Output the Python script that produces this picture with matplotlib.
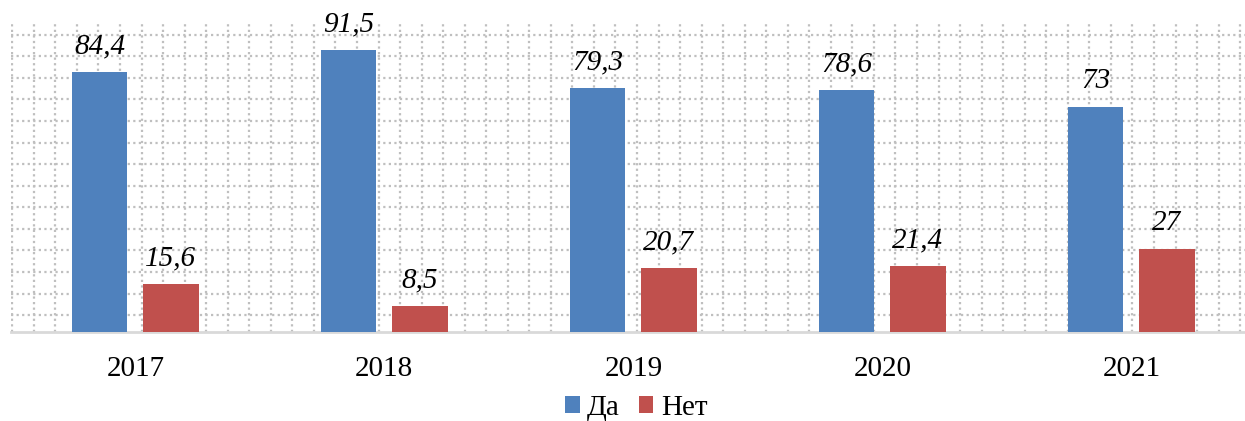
import numpy as np
import matplotlib
matplotlib.use('Agg')
import matplotlib.pyplot as plt

years = ['2017', '2018', '2019', '2020', '2021']
yes_values = [84.4, 91.5, 79.3, 78.6, 73]
no_values = [15.6, 8.5, 20.7, 21.4, 27]
yes_labels = ['84,4', '91,5', '79,3', '78,6', '73']
no_labels = ['15,6', '8,5', '20,7', '21,4', '27']

plt.rcParams['font.family'] = ['Liberation Serif', 'DejaVu Serif']

fig = plt.figure(figsize=(12.45, 4.21), dpi=100)
ax = fig.add_axes([0.0087, 0.2114, 1.0047, 0.7316])

x = np.arange(len(years))
w = 0.222
off = 0.143
b1 = ax.bar(x - off, yes_values, w, color='#4F81BD', label='Да', zorder=3)
b2 = ax.bar(x + off, no_values, w, color='#C0504D', label='Нет', zorder=3)

for bars, labels in ((b1, yes_labels), (b2, no_labels)):
    for bar, lab in zip(bars, labels):
        ax.annotate(lab, (bar.get_x() + bar.get_width() / 2, bar.get_height()),
                    xytext=(0, 13.5), textcoords='offset points',
                    ha='center', va='baseline', fontsize=21, style='italic')

ax.set_xlim(-0.5, 4.5)
ax.set_ylim(0, 100)

# dotted background grid
ax.set_yticks(np.arange(5.5, 100, 7.0))
ax.set_xticks(np.arange(-0.494, 4.6, 0.0865), minor=True)
ax.grid(True, axis='y', color='#bfbfbf', linestyle=(0, (1, 1.5)), linewidth=1.6, zorder=0)
ax.grid(True, axis='x', which='minor', color='#bfbfbf', linestyle=(0, (1, 1.5)), linewidth=1.6, zorder=0)
ax.tick_params(axis='y', left=False, labelleft=False)
ax.tick_params(axis='x', which='both', bottom=False)

ax.set_xticks(x)
ax.set_xticklabels(years, fontsize=21)
ax.tick_params(axis='x', pad=14)

for s in ['top', 'right', 'left']:
    ax.spines[s].set_visible(False)
ax.spines['bottom'].set_color('#d9d9d9')
ax.spines['bottom'].set_linewidth(2)

fig.legend(loc='center', bbox_to_anchor=(0.511, 0.031), ncol=2, frameon=False,
           fontsize=21, handlelength=0.5, handleheight=0.5, handletextpad=0.25,
           columnspacing=0.65, borderpad=0)

plt.savefig('out.png')
